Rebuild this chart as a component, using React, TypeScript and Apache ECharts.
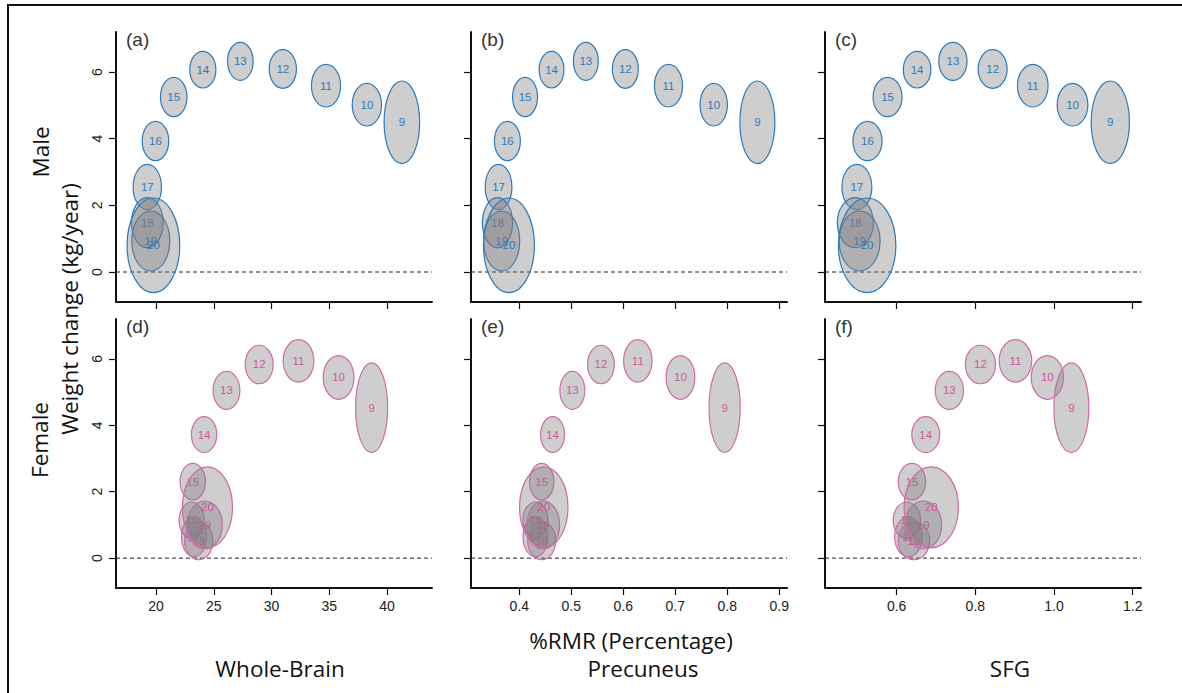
import React, { useEffect, useRef } from "react";
import * as echarts from "echarts";

// ---------- data ----------
const ages = [9, 10, 11, 12, 13, 14, 15, 16, 17, 18, 19, 20];

// weight change (kg/year): centre and half-height of each ellipse
const maleY = [4.49, 5.02, 5.59, 6.09, 6.32, 6.07, 5.25, 3.93, 2.55, 1.48, 0.93, 0.8];
const maleYHalf = [1.24, 0.64, 0.64, 0.58, 0.57, 0.55, 0.59, 0.59, 0.68, 0.75, 0.9, 1.42];
const femaleY = [4.53, 5.44, 5.94, 5.83, 5.05, 3.72, 2.3, 1.14, 0.64, 0.52, 1.0, 1.53];
const femaleYHalf = [1.35, 0.66, 0.64, 0.58, 0.57, 0.54, 0.55, 0.55, 0.6, 0.57, 0.72, 1.22];

// %RMR centres and half-widths
const wbMaleX = [41.29, 38.26, 34.72, 30.98, 27.3, 24.05, 21.53, 19.95, 19.24, 19.24, 19.54, 19.77];
const wbMaleXHalf = [1.54, 1.27, 1.26, 1.18, 1.11, 1.13, 1.15, 1.15, 1.23, 1.37, 1.65, 2.28];
const precMaleX = [0.858, 0.774, 0.687, 0.604, 0.528, 0.462, 0.411, 0.377, 0.36, 0.358, 0.366, 0.38];
const precMaleXHalf = [0.0337, 0.0263, 0.027, 0.025, 0.024, 0.0238, 0.024, 0.025, 0.0257, 0.029, 0.0347, 0.049];
const sfgMaleX = [1.143, 1.047, 0.946, 0.844, 0.743, 0.652, 0.577, 0.526, 0.499, 0.495, 0.506, 0.525];
const sfgMaleXHalf = [0.0486, 0.039, 0.0389, 0.0368, 0.036, 0.035, 0.0368, 0.037, 0.038, 0.0456, 0.052, 0.073];

const wbFemaleX = [38.67, 35.81, 32.34, 28.93, 26.1, 24.16, 23.18, 23.08, 23.28, 23.7, 24.22, 24.45];
const wbFemaleXHalf = [1.39, 1.33, 1.33, 1.21, 1.16, 1.1, 1.1, 1.08, 1.08, 1.23, 1.52, 2.17];
const precFemaleX = [0.795, 0.71, 0.628, 0.557, 0.502, 0.464, 0.443, 0.431, 0.431, 0.443, 0.446, 0.447];
const precFemaleXHalf = [0.03, 0.0276, 0.0273, 0.0257, 0.024, 0.0231, 0.0234, 0.024, 0.024, 0.027, 0.0315, 0.0466];
const sfgFemaleX = [1.044, 0.983, 0.902, 0.813, 0.734, 0.674, 0.639, 0.626, 0.63, 0.644, 0.668, 0.688];
const sfgFemaleXHalf = [0.0444, 0.041, 0.0414, 0.0384, 0.0359, 0.0355, 0.0346, 0.0346, 0.035, 0.04, 0.0465, 0.069];

// axes
const wbRange = [16.53, 43.9];
const precRange = [0.307, 0.915];
const sfgRange = [0.418, 1.221];
const yRange = [-0.9, 7.2];
const wbTicks = [20, 25, 30, 35, 40];
const precTicks = [0.4, 0.5, 0.6, 0.7, 0.8, 0.9];
const sfgTicks = [0.6, 0.8, 1.0, 1.2];
const yTicks = [0, 2, 4, 6];

const panelLetters = ["(a)", "(b)", "(c)", "(d)", "(e)", "(f)"];
const columnTitles = ["Whole-Brain", "Precuneus", "SFG"];
const rowTitles = ["Male", "Female"];
const yTitle = "Weight change (kg/year)";
const xTitle = "%RMR (Percentage)";

// ---------- layout / style ----------
const colLeft = [116, 471, 825];
const colWidth = 316;
const rowTop = [32, 319];
const rowHeight = [270, 269];
const MALE = "#2b7bba";
const FEMALE = "#d06aa8";
const FEMALE_TXT = "#d2559c";
const FILL = "rgba(128,125,130,0.38)";
const TICK_FONT = '"Liberation Sans", Arial, sans-serif';
const TITLE_FONT = '"Open Sans", "Noto Sans", sans-serif';

export default function App() {
  const ref = useRef<HTMLDivElement>(null);

  useEffect(() => {
    if (!ref.current) return;
    const chart = echarts.init(ref.current, null, { renderer: "svg" });

    const cols = [
      { range: wbRange, ticks: wbTicks, fmt: (v: number) => String(v), mx: wbMaleX, mxh: wbMaleXHalf, fx: wbFemaleX, fxh: wbFemaleXHalf },
      { range: precRange, ticks: precTicks, fmt: (v: number) => v.toFixed(1), mx: precMaleX, mxh: precMaleXHalf, fx: precFemaleX, fxh: precFemaleXHalf },
      { range: sfgRange, ticks: sfgTicks, fmt: (v: number) => v.toFixed(1), mx: sfgMaleX, mxh: sfgMaleXHalf, fx: sfgFemaleX, fxh: sfgFemaleXHalf },
    ];

    const grids: any[] = [];
    const xAxes: any[] = [];
    const yAxes: any[] = [];
    const series: any[] = [];
    const graphics: any[] = [];

    for (let r = 0; r < 2; r++) {
      for (let c = 0; c < 3; c++) {
        const idx = r * 3 + c;
        const col = cols[c];
        grids.push({ left: colLeft[c], top: rowTop[r], width: colWidth, height: rowHeight[r] });
        xAxes.push({
          type: "value",
          gridIndex: idx,
          min: col.range[0],
          max: col.range[1],
          axisLine: { show: true, onZero: false, lineStyle: { color: "#111", width: 2 } },
          axisTick: { show: true, customValues: col.ticks, length: 7, lineStyle: { color: "#111", width: 1.2 } },
          axisLabel: {
            show: r === 1,
            customValues: col.ticks,
            formatter: col.fmt,
            margin: 11,
            color: "#222",
            fontSize: 14,
            fontFamily: TICK_FONT,
          },
          splitLine: { show: false },
        });
        yAxes.push({
          type: "value",
          gridIndex: idx,
          min: yRange[0],
          max: yRange[1],
          axisLine: { show: true, onZero: false, lineStyle: { color: "#111", width: 2 } },
          axisTick: { show: true, customValues: yTicks, length: 7, lineStyle: { color: "#111", width: 1.2 } },
          axisLabel: {
            show: c === 0,
            customValues: yTicks,
            rotate: 90,
            margin: 12,
            color: "#222",
            fontSize: 14,
            fontFamily: TICK_FONT,
          },
          splitLine: { show: false },
        });

        // dashed zero line
        series.push({
          type: "line",
          xAxisIndex: idx,
          yAxisIndex: idx,
          data: [
            [col.range[0], 0],
            [col.range[1], 0],
          ],
          symbol: "none",
          lineStyle: { color: "#222", width: 1, type: [4, 3] },
          z: 1,
          silent: true,
        });

        const xs = r === 0 ? col.mx : col.fx;
        const xh = r === 0 ? col.mxh : col.fxh;
        const ys = r === 0 ? maleY : femaleY;
        const yh = r === 0 ? maleYHalf : femaleYHalf;
        const stroke = r === 0 ? MALE : FEMALE;
        const txtColor = r === 0 ? MALE : FEMALE_TXT;
        const data = ages.map((a, i) => [xs[i], ys[i], xh[i], yh[i], a]);

        series.push({
          type: "custom",
          xAxisIndex: idx,
          yAxisIndex: idx,
          data,
          encode: { x: 0, y: 1 },
          z: 2,
          silent: true,
          renderItem: (params: any, api: any) => {
            const p = api.coord([api.value(0), api.value(1)]);
            const s = api.size([api.value(2), api.value(3)]);
            return {
              type: "group",
              children: [
                {
                  type: "ellipse",
                  shape: { cx: p[0], cy: p[1], rx: s[0], ry: s[1] },
                  style: { fill: FILL, stroke, lineWidth: 1.2 },
                },
                {
                  type: "text",
                  style: {
                    text: String(api.value(4)),
                    x: p[0],
                    y: p[1],
                    align: "center",
                    verticalAlign: "middle",
                    fill: txtColor,
                    fontSize: 11.5,
                    fontFamily: TICK_FONT,
                  },
                },
              ],
            };
          },
        });

        graphics.push({
          type: "text",
          x: colLeft[c] + 10,
          y: rowTop[r] + 7,
          style: {
            text: panelLetters[idx],
            align: "left",
            verticalAlign: "middle",
            fill: "#333",
            fontSize: 19,
            fontFamily: TICK_FONT,
          },
        });
      }
    }

    // frame
    graphics.unshift({
      type: "rect",
      shape: { x: 8, y: 5, width: 1400, height: 900 },
      style: { fill: "none", stroke: "#111", lineWidth: 2 },
      silent: true,
    });

    const titleStyle = (text: string) => ({
      text,
      align: "center",
      verticalAlign: "middle",
      fill: "#111",
      fontSize: 22.5,
      fontFamily: TITLE_FONT,
    });
    graphics.push({ type: "text", x: 40, y: 152, rotation: Math.PI / 2, style: titleStyle(rowTitles[0]) });
    graphics.push({ type: "text", x: 39, y: 440, rotation: Math.PI / 2, style: titleStyle(rowTitles[1]) });
    graphics.push({ type: "text", x: 69, y: 309, rotation: Math.PI / 2, style: titleStyle(yTitle) });
    graphics.push({ type: "text", x: 631, y: 640, style: titleStyle(xTitle) });
    graphics.push({ type: "text", x: 280, y: 668, style: titleStyle(columnTitles[0]) });
    graphics.push({ type: "text", x: 643, y: 668, style: titleStyle(columnTitles[1]) });
    graphics.push({ type: "text", x: 1010, y: 668, style: titleStyle(columnTitles[2]) });

    chart.setOption({
      animation: false,
      backgroundColor: "#ffffff",
      grid: grids,
      xAxis: xAxes,
      yAxis: yAxes,
      series,
      graphic: graphics,
    });

    return () => chart.dispose();
  }, []);

  return (
    <div
      ref={ref}
      style={{ position: "fixed", left: 0, top: 0, width: 1182, height: 693, background: "#fff" }}
    />
  );
}
